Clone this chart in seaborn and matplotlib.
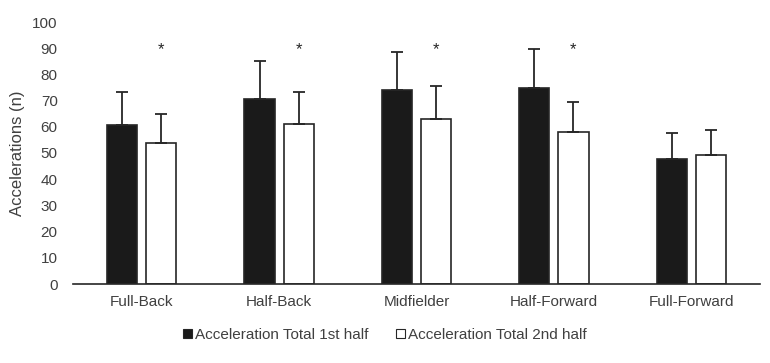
import matplotlib
matplotlib.use('Agg')
import matplotlib.pyplot as plt
from matplotlib.patches import Patch
import seaborn as sns
import pandas as pd
import numpy as np

positions = ['Full-Back', 'Half-Back', 'Midfielder', 'Half-Forward', 'Full-Forward']
halves = ['Acceleration Total 1st half', 'Acceleration Total 2nd half']
first_mean = [60.7, 70.7, 73.9, 74.7, 47.8]
first_sd = [12.4, 14.4, 14.8, 15.1, 9.7]
second_mean = [53.9, 60.9, 63.1, 57.9, 49.1]
second_sd = [10.8, 12.2, 12.3, 11.7, 9.8]
significant = [True, True, True, True, False]

df = pd.DataFrame({
    'position': positions * 2,
    'half': [halves[0]] * 5 + [halves[1]] * 5,
    'mean': first_mean + second_mean,
    'sd': first_sd + second_sd,
})

sns.set_style('white')
plt.rcParams['font.family'] = ['Liberation Sans', 'DejaVu Sans']
plt.rcParams['font.size'] = 11
txt = '#404040'

fig = plt.figure(figsize=(7.7, 3.63), dpi=100)
ax = fig.add_axes([73 / 770, 1 - 284 / 363, 687 / 770, 262 / 363])

sns.barplot(data=df, x='position', y='mean', hue='half', order=positions,
            hue_order=halves, palette=['#1a1a1a', 'white'], edgecolor='#262626',
            linewidth=1.2, width=0.57, gap=0.23, errorbar=None, legend=False, ax=ax)

# error bars (upper only) on top of each bar
for container, sds in zip(ax.containers, [first_sd, second_sd]):
    for bar, sd in zip(container, sds):
        xc = bar.get_x() + bar.get_width() / 2
        h = bar.get_height()
        ax.errorbar(xc, h, yerr=[[0], [sd]], fmt='none', ecolor='#262626',
                    elinewidth=1.3, capsize=4, capthick=1.3)

# significance markers above 2nd half bars
for bar, sig in zip(ax.containers[1], significant):
    if sig:
        ax.text(bar.get_x() + bar.get_width() / 2, 86.5, '*', ha='center',
                va='bottom', fontsize=12, color='#262626')

ax.set_ylim(0, 100)
ax.set_yticks(range(0, 101, 10))
ax.set_xlim(-0.5, 4.5)
ax.set_xlabel('')
ax.set_ylabel('Accelerations (n)', color=txt, fontsize=12)
ax.yaxis.set_label_coords(-0.07, 0.5)
ax.tick_params(axis='both', length=0, colors=txt, labelsize=11)
ax.tick_params(axis='x', pad=8)
ax.tick_params(axis='y', pad=11)
for s in ['top', 'right', 'left']:
    ax.spines[s].set_visible(False)
ax.spines['bottom'].set_color('#262626')
ax.spines['bottom'].set_linewidth(1.2)

handles = [Patch(facecolor='#1a1a1a', edgecolor='#262626', linewidth=0.8),
           Patch(facecolor='white', edgecolor='#262626', linewidth=0.8)]
fig.legend(handles, halves, loc='center', bbox_to_anchor=(0.5, 1 - 335 / 363),
           ncols=2, frameon=False, handlelength=0.6, handleheight=0.6,
           handletextpad=0.2, columnspacing=1.8, fontsize=11, labelcolor=txt)

fig.savefig('out.png', dpi=100)
